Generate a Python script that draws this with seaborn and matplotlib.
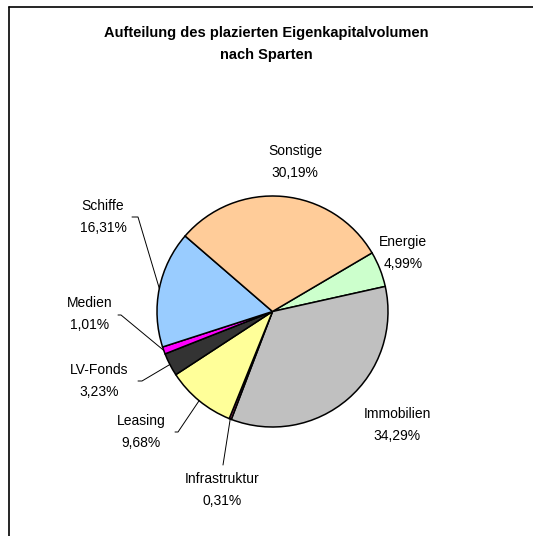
import numpy as np
import matplotlib
matplotlib.use("Agg")
import matplotlib.pyplot as plt
from matplotlib.lines import Line2D
import seaborn as sns

# Daten
sparten = ["Energie", "Immobilien", "Infrastruktur", "Leasing",
           "LV-Fonds", "Medien", "Schiffe", "Sonstige"]
anteile = [4.99, 34.29, 0.31, 9.68, 3.23, 1.01, 16.31, 30.19]
farben = ["#CCFFCC", "#C0C0C0", "#993366", "#FFFF99",
          "#333333", "#FF00FF", "#99CCFF", "#FFCC99"]
titel = "Aufteilung des plazierten Eigenkapitalvolumen\nnach Sparten"

sns.set_theme(style="white")
plt.rcParams["font.family"] = ["Liberation Sans", "DejaVu Sans"]

W, H = 533, 536
fig = plt.figure(figsize=(W / 100, H / 100), dpi=100)
ax = fig.add_axes([0, 0, 1, 1])


def P(x, y):
    # Pixel (von oben) -> Datenkoordinaten (y nach oben)
    return x, H - y


# Pie in Pixelkoordinaten
cx, cy = P(272.5, 311.5)
r = 115.5
start = 30.5
wedges, _ = ax.pie(anteile, colors=farben, startangle=start, counterclock=False,
                   center=(cx, cy), radius=r, frame=True,
                   wedgeprops=dict(edgecolor="black", linewidth=1.1))
ax.set_xlim(0, W)
ax.set_ylim(0, H)
ax.set_aspect("equal")
ax.axis("off")

# Beschriftungspositionen (Mitte des Textblocks) und Knickpunkte der Führungslinie
lab_pos = {
    "Energie": (403, 253),
    "Immobilien": (397, 425),
    "Infrastruktur": (222, 490),
    "Leasing": (141, 432),
    "LV-Fonds": (99, 381),
    "Medien": (90, 314),
    "Schiffe": (103, 217),
    "Sonstige": (295, 162),
}
leader = {
    "Infrastruktur": [(223, 465)],
    "Leasing": [(175, 432), (178, 432)],
    "LV-Fonds": [(138, 381), (142, 381)],
    "Medien": [(118, 315), (121, 315)],
    "Schiffe": [(132, 217), (138, 217)],
}

ang = start
for name, val in zip(sparten, anteile):
    mid = ang - val * 3.6 / 2
    ang -= val * 3.6
    x, y = P(*lab_pos[name])
    ax.text(x, y + 11, name, ha="center", va="center", fontsize=10, color="black")
    ax.text(x, y - 11, f"{val:.2f}%".replace(".", ","), ha="center", va="center",
            fontsize=10, color="black")
    if name in leader:
        px = cx + r * np.cos(np.radians(mid))
        py = cy + r * np.sin(np.radians(mid))
        pts = [P(*p) for p in leader[name]] + [(px, py)]
        ax.plot([p[0] for p in pts], [p[1] for p in pts], color="black", lw=0.7)

fig.text(0.5, 1 - 26 / H, titel, ha="center", va="top", fontsize=10.5,
         fontweight="bold", linespacing=1.75, color="black")

# Rahmen (links und oben sichtbar)
fig.add_artist(Line2D([9 / W, 9 / W], [0, 1 - 7 / H], color="black", lw=1.2,
                      transform=fig.transFigure))
fig.add_artist(Line2D([9 / W, 1], [1 - 7 / H, 1 - 7 / H], color="black", lw=1.2,
                      transform=fig.transFigure))

plt.savefig("out.png", dpi=100, facecolor="white")
